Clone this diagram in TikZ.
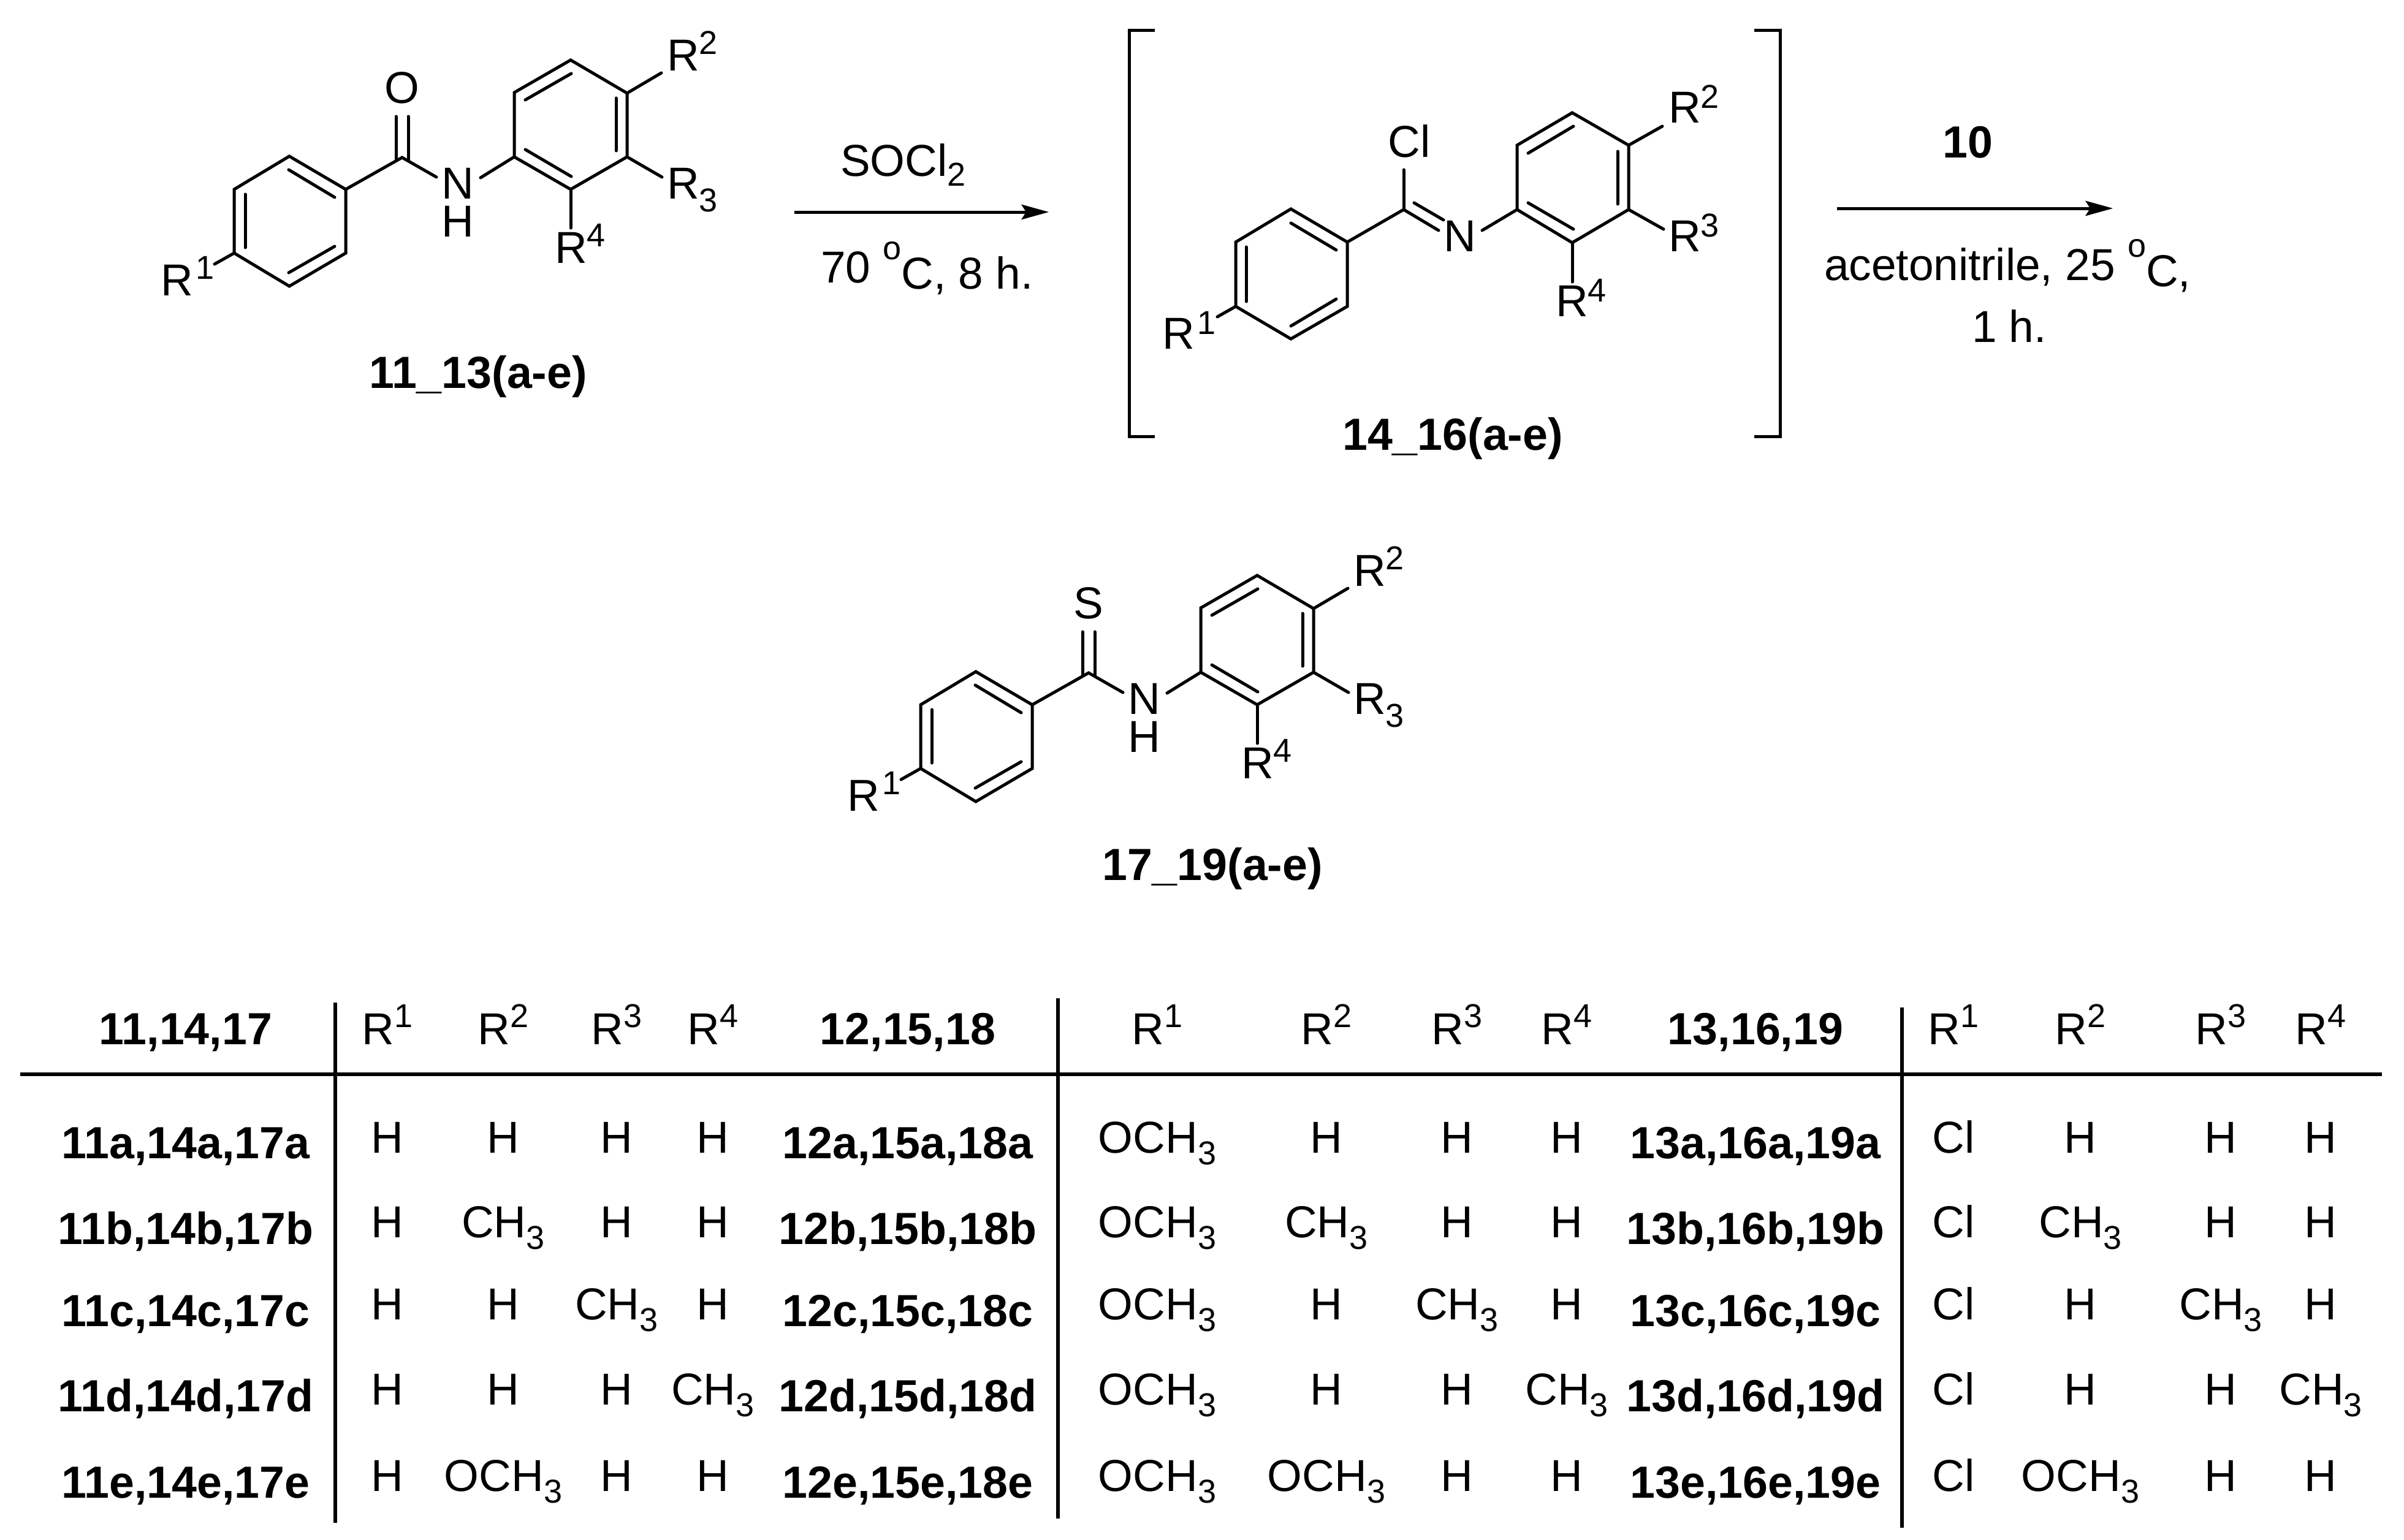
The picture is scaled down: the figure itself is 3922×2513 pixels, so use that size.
\documentclass[tikz,border=0pt]{standalone}
\usepackage{fontspec}
\setmainfont{Liberation Sans}
\usetikzlibrary{arrows.meta}
\newcommand\smallfig[1]{{\fontsize{54}{54}\selectfont #1}}
\newcommand\highdig[2]{\raisebox{#1pt}{\smallfig{#2}}}
\newcommand\lowdig[2]{\raisebox{-#1pt}{\smallfig{#2}}}
\newcommand\CHm{CH\lowdig{19}{3}}
\newcommand\OCHm{OCH\lowdig{19}{3}}
\tikzset{
  lab/.style={inner sep=0pt,outer sep=0pt,anchor=base,font=\fontsize{73}{73}\selectfont},
  labw/.style={lab,anchor=base west},
  boldlab/.style={lab,font=\fontsize{73.5}{73.5}\selectfont\bfseries},
  nhlab/.style={inner sep=0pt,outer sep=0pt,anchor=south,align=center,font=\fontsize{73}{62}\selectfont},
  bond/.style={line width=5pt,line join=miter,line cap=round},
  rule/.style={line width=5.5pt},
  rxn/.style={line width=5pt,-{Stealth[length=45pt,width=25pt,inset=8pt,line width=0pt]}},
  brk/.style={line width=5pt,line join=miter}
}
% benzamide / thiobenzamide skeleton: #1 name prefix, #2 hetero atom
\newcommand\amide[2]{%
  \coordinate (#1a1) at (472,255);\coordinate (#1a2) at (564,309);\coordinate (#1a3) at (564,413);
  \coordinate (#1a4) at (472,467);\coordinate (#1a5) at (382,413);\coordinate (#1a6) at (382,309);
  \coordinate (#1c) at (656,257);
  \coordinate (#1d1) at (646,190);\coordinate (#1d2) at (666,190);
  \coordinate (#1d3) at (646,262);\coordinate (#1d4) at (666,262);
  \coordinate (#1nl) at (712,289);\coordinate (#1nr) at (784,290);
  \coordinate (#1b1) at (839,256);\coordinate (#1b2) at (839,151);\coordinate (#1b3) at (931,98);
  \coordinate (#1b4) at (1023,152);\coordinate (#1b5) at (1023,256);\coordinate (#1b6) at (931,309);
  \coordinate (#1e1) at (350,431);\coordinate (#1e2) at (1079,119);
  \coordinate (#1e3) at (1080,289);\coordinate (#1e4) at (931,372);
  \draw[bond] (#1a1)--(#1a2)--(#1a3)--(#1a4)--(#1a5)--(#1a6)--cycle;
  \draw[bond] (#1b1)--(#1b2)--(#1b3)--(#1b4)--(#1b5)--(#1b6)--cycle;
  \draw[bond] (#1a2)--(#1c)--(#1nl);
  \draw[bond] (#1nr)--(#1b1);
  \draw[bond] (#1d1)--(#1d3);\draw[bond] (#1d2)--(#1d4);
  \draw[bond] (#1a5)--(#1e1);\draw[bond] (#1b4)--(#1e2);\draw[bond] (#1b5)--(#1e3);\draw[bond] (#1b6)--(#1e4);
  \draw[bond] (471,277)--(546,322);\draw[bond] (400,317)--(400,404);\draw[bond] (471,445)--(546,402);
  \draw[bond] (857,163)--(932,120);\draw[bond] (1005,160)--(1005,246);\draw[bond] (857,244)--(932,288);
  \node[lab] (#1x) at (656,168) {#2};
  \node[nhlab] (#1n) at (747,386) {N\\H};
  \node[labw] (#1r1) at (262,482) {R\kern5pt\highdig{27}{1}};
  \node[labw] (#1r2) at (1088,115) {R\highdig{27}{2}};
  \node[labw] (#1r3) at (1088,324) {R\lowdig{21}{3}};
  \node[labw] (#1r4) at (905,429) {R\highdig{27}{4}};
}
% table helpers
\newcommand\tgroup[5]{\def\xb{#1}\def\xa{#2}\def\xc{#3}\def\xd{#4}\def\xe{#5}}
\newcommand\trow[8]{%
  \node[boldlab] (#1b) at (\xb,#2) {#4};
  \node[lab] (#1p) at (\xa,#3) {#5};
  \node[lab] (#1q) at (\xc,#3) {#6};
  \node[lab] (#1r) at (\xd,#3) {#7};
  \node[lab] (#1s) at (\xe,#3) {#8};
}
\begin{document}
\begin{tikzpicture}[x=1pt,y=-1pt]
\fill[white] (0,0) rectangle (3922,2513);
\useasboundingbox (0,0) rectangle (3922,2513);

% compound 11_13
\amide{p}{O}
\node[boldlab] (l1) at (780,633) {11\_13(a-e)};

% arrow 1
\coordinate (a1s) at (1296,346);\coordinate (a1e) at (1711,346);
\draw[rxn] (a1s)--(a1e);
\node[labw] (t1) at (1371,287) {SOCl\lowdig{16}{2}};
\node[labw] (t2) at (1339,471) {\raisebox{10pt}{70} \highdig{48}{o}C, 8 h.};

% intermediate 14_16
\coordinate (qa1) at (2106,341);\coordinate (qa2) at (2198,395);\coordinate (qa3) at (2198,500);
\coordinate (qa4) at (2106,553);\coordinate (qa5) at (2016,500);\coordinate (qa6) at (2016,395);
\coordinate (qc) at (2290,342);\coordinate (qcl) at (2290,277);
\coordinate (qdo) at (2347,376);\coordinate (qi1) at (2307,331);\coordinate (qi2) at (2355,359);
\coordinate (qnr) at (2418,376);
\coordinate (qb1) at (2475,342);\coordinate (qb2) at (2475,237);\coordinate (qb3) at (2565,184);
\coordinate (qb4) at (2657,237);\coordinate (qb5) at (2657,342);\coordinate (qb6) at (2565,396);
\coordinate (qe1) at (1986,517);\coordinate (qe2) at (2712,206);\coordinate (qe3) at (2714,374);\coordinate (qe4) at (2565,460);
\draw[bond] (qa1)--(qa2)--(qa3)--(qa4)--(qa5)--(qa6)--cycle;
\draw[bond] (qb1)--(qb2)--(qb3)--(qb4)--(qb5)--(qb6)--cycle;
\draw[bond] (qa2)--(qc)--(qdo);
\draw[bond] (qc)--(qcl);
\draw[bond] (qi1)--(qi2);
\draw[bond] (qnr)--(qb1);
\draw[bond] (qa5)--(qe1);\draw[bond] (qb4)--(qe2);\draw[bond] (qb5)--(qe3);\draw[bond] (qb6)--(qe4);
\draw[bond] (2106,364)--(2180,408);\draw[bond] (2033,403)--(2033,492);\draw[bond] (2106,532)--(2180,488);
\draw[bond] (2493,250)--(2567,206);\draw[bond] (2639,247)--(2639,333);\draw[bond] (2493,331)--(2567,374);
\node[lab] (qclab) at (2299,256) {Cl};
\node[lab] (qn) at (2382,410) {N};
\node[labw] (qr1) at (1896,569) {R\kern5pt\highdig{24}{1}};
\node[labw] (qr2) at (2722,200) {R\highdig{24}{2}};
\node[labw] (qr3) at (2722,410) {R\highdig{24}{3}};
\node[labw] (qr4) at (2538,516) {R\highdig{24}{4}};
\node[boldlab] (l2) at (2370,734) {14\_16(a-e)};

% brackets
\coordinate (bl1) at (1884,50);\coordinate (bl2) at (1842,50);\coordinate (bl3) at (1842,712);\coordinate (bl4) at (1884,712);
\coordinate (br1) at (2862,50);\coordinate (br2) at (2904,50);\coordinate (br3) at (2904,712);\coordinate (br4) at (2862,712);
\draw[brk] (bl1)--(bl2)--(bl3)--(bl4);
\draw[brk] (br1)--(br2)--(br3)--(br4);

% arrow 2
\coordinate (a2s) at (2997,340);\coordinate (a2e) at (3447,340);
\draw[rxn] (a2s)--(a2e);
\node[boldlab] (t3) at (3210,257) {10};
\node[labw] (t4) at (2976,467) {\raisebox{10pt}{acetonitrile, 25} \highdig{48}{o}C,};
\node[labw] (t5) at (3217,558) {1 h.};

% thio product
\begin{scope}[shift={(1120,841)}]
\amide{s}{S}
\end{scope}
\node[boldlab] (l3) at (1978,1436) {17\_19(a-e)};

% table rules
\coordinate (h1) at (33,1753);\coordinate (h2) at (3886,1753);
\draw[rule] (h1)--(h2);
\coordinate (v1a) at (547,1636);\coordinate (v1b) at (547,2485);
\coordinate (v2a) at (1726,1629);\coordinate (v2b) at (1726,2478);
\coordinate (v3a) at (3103,1644);\coordinate (v3b) at (3103,2493);
\draw[rule] (v1a)--(v1b);\draw[rule] (v2a)--(v2b);\draw[rule] (v3a)--(v3b);

% group 1
\tgroup{303}{632}{821}{1006}{1163}
\trow{ah}{1704}{1704}{11,14,17}{R\highdig{28}{1}}{R\highdig{28}{2}}{R\highdig{28}{3}}{R\highdig{28}{4}}
\trow{aa}{1890}{1881}{11a,14a,17a}{H}{H}{H}{H}
\trow{ab}{2030}{2019}{11b,14b,17b}{H}{\CHm}{H}{H}
\trow{ac}{2164}{2153}{11c,14c,17c}{H}{H}{\CHm}{H}
\trow{ad}{2303}{2292}{11d,14d,17d}{H}{H}{H}{\CHm}
\trow{ae}{2444}{2433}{11e,14e,17e}{H}{\OCHm}{H}{H}

% group 2
\tgroup{1481}{1888}{2164}{2377}{2556}
\trow{bh}{1704}{1704}{12,15,18}{R\highdig{28}{1}}{R\highdig{28}{2}}{R\highdig{28}{3}}{R\highdig{28}{4}}
\trow{ba}{1890}{1881}{12a,15a,18a}{\OCHm}{H}{H}{H}
\trow{bb}{2030}{2019}{12b,15b,18b}{\OCHm}{\CHm}{H}{H}
\trow{bc}{2164}{2153}{12c,15c,18c}{\OCHm}{H}{\CHm}{H}
\trow{bd}{2303}{2292}{12d,15d,18d}{\OCHm}{H}{H}{\CHm}
\trow{be}{2444}{2433}{12e,15e,18e}{\OCHm}{\OCHm}{H}{H}

% group 3
\tgroup{2864}{3187}{3394}{3623}{3786}
\trow{ch}{1704}{1704}{13,16,19}{R\highdig{28}{1}}{R\highdig{28}{2}}{R\highdig{28}{3}}{R\highdig{28}{4}}
\trow{ca}{1890}{1881}{13a,16a,19a}{Cl}{H}{H}{H}
\trow{cb}{2030}{2019}{13b,16b,19b}{Cl}{\CHm}{H}{H}
\trow{cc}{2164}{2153}{13c,16c,19c}{Cl}{H}{\CHm}{H}
\trow{cd}{2303}{2292}{13d,16d,19d}{Cl}{H}{H}{\CHm}
\trow{ce}{2444}{2433}{13e,16e,19e}{Cl}{\OCHm}{H}{H}
\end{tikzpicture}
\end{document}
